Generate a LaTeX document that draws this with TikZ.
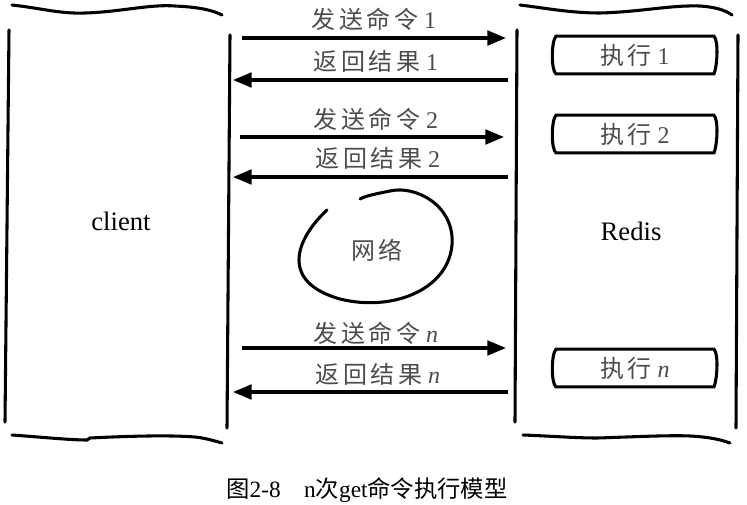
\documentclass[tikz,border=0pt]{standalone}
\usepackage{fontspec}
\setmainfont{Liberation Serif}
\newfontfamily\cjk{Noto Sans CJK SC}
\newfontfamily\cjkhand{Noto Sans CJK SC}[LetterSpace=14]
\usetikzlibrary{arrows.meta}
\newcommand\hz[1]{{\cjkhand #1}}

\begin{document}
\begin{tikzpicture}[x=0.75pt,y=-0.75pt,
    font=\fontsize{18pt}{21pt}\selectfont,
    edge/.style={line width=2.3pt,line cap=round},
    arr/.style={-{Triangle[length=14pt,width=11pt]},line width=2.3pt},
    lbl/.style={text=black!70,inner sep=0pt},
    exec/.style={text=black!70,minimum width=118pt,minimum height=28pt,inner sep=0pt}]
  \useasboundingbox (0,0) rectangle (747,504);
  % client column
  \draw[edge] (12,5) .. controls (40,8) and (60,14) .. (85,13) .. controls (120,12) and (150,4) .. (175,6) .. controls (195,7) and (210,9) .. (222,15);
  \draw[edge] (9,30) -- (5,422);
  \draw[edge] (230,35) -- (227,428);
  \draw[edge] (12,435) .. controls (40,437) and (70,440) .. (87,440) -- (90,438) .. controls (130,436) and (170,435) .. (195,437) .. controls (205,438) and (215,441) .. (222,443);
  \node[inner sep=0pt,font=\fontsize{20pt}{24pt}\selectfont] (client) at (121,221) {client};
  % Redis column
  \draw[edge] (520,5) .. controls (545,8) and (570,13) .. (600,13) .. controls (640,12) and (670,5) .. (700,6) .. controls (715,7) and (725,10) .. (732,15);
  \draw[edge] (517,30) -- (515,422);
  \draw[edge] (738,35) -- (736,428);
  \draw[edge] (523,435) .. controls (550,436) and (575,438) .. (597,438) .. controls (630,437) and (670,435) .. (690,436) .. controls (710,437) and (722,440) .. (730,443);
  \node[inner sep=0pt,font=\fontsize{20pt}{24pt}\selectfont] (redis) at (631,231) {Redis};
  % execution boxes
  \node[exec] (ex1) at (635,55) {\hz{执行} 1};
  \node[exec] (ex2) at (635,134) {\hz{执行} 2};
  \node[exec] (exn) at (635,368) {\hz{执行} \textit{n}};
  \draw[edge] (ex1.north west) -- (ex1.north east) .. controls +(5,5) and +(3,-6) .. (ex1.south east) -- (ex1.south west) .. controls +(-5,-3) and +(-5,5) .. cycle;
  \draw[edge] (ex2.north west) -- (ex2.north east) .. controls +(5,5) and +(3,-6) .. (ex2.south east) -- (ex2.south west) .. controls +(-5,-3) and +(-5,5) .. cycle;
  \draw[edge] (exn.north west) -- (exn.north east) .. controls +(5,5) and +(3,-6) .. (exn.south east) -- (exn.south west) .. controls +(-5,-3) and +(-5,5) .. cycle;
  % message ends
  \coordinate (s1a) at (242,38);  \coordinate (s1b) at (506,38);
  \coordinate (r1a) at (508,80);  \coordinate (r1b) at (233,80);
  \coordinate (s2a) at (240,137); \coordinate (s2b) at (504,137);
  \coordinate (r2a) at (508,177); \coordinate (r2b) at (233,177);
  \coordinate (sna) at (242,348); \coordinate (snb) at (506,348);
  \coordinate (rna) at (508,392); \coordinate (rnb) at (233,392);
  \draw[arr] (s1a) -- (s1b);
  \draw[arr] (r1a) -- (r1b);
  \draw[arr] (s2a) -- (s2b);
  \draw[arr] (r2a) -- (r2b);
  \draw[arr] (sna) -- (snb);
  \draw[arr] (rna) -- (rnb);
  \node[lbl] (ls1) at (374,19) {\hz{发送命令} 1};
  \node[lbl] (lr1) at (376,61) {\hz{返回结果} 1};
  \node[lbl] (ls2) at (376,119) {\hz{发送命令} 2};
  \node[lbl] (lr2) at (378,158) {\hz{返回结果} 2};
  \node[lbl] (lsn) at (376,333) {\hz{发送命令} \textit{n}};
  \node[lbl] (lrn) at (378,374) {\hz{返回结果} \textit{n}};
  % network
  \node[lbl] (net) at (377,250) {\hz{网络}};
  \draw[edge] (327,210) .. controls (295,240) and (280,282) .. (340,299) .. controls (392,312) and (448,290) .. (452,245) .. controls (455,205) and (415,185) .. (390,191) .. controls (375,194) and (365,196) .. (360,199);
  % caption
  \node[inner sep=0pt,font=\fontsize{17.5pt}{20pt}\selectfont] (cap) at (367,490) {{\cjk 图}2-8\hspace{1em}n{\cjk 次}get{\cjk 命令执行模型}};
\end{tikzpicture}
\end{document}
